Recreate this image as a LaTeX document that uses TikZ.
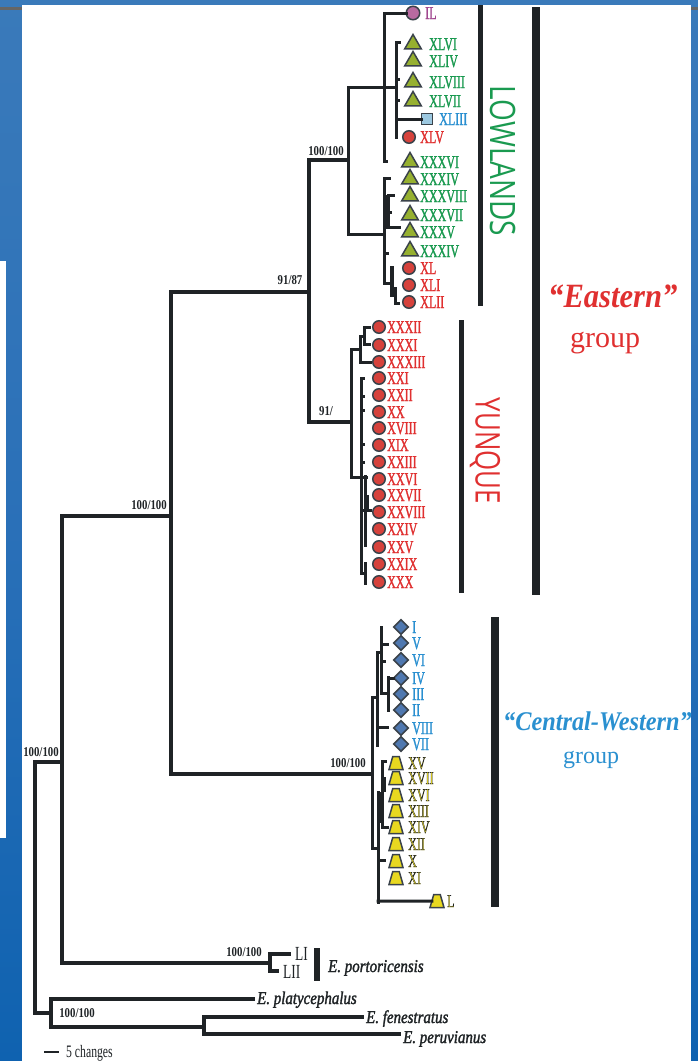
\documentclass[tikz,border=0pt]{standalone}
\usepackage{fontspec}
\usetikzlibrary{shapes.geometric}
\setmainfont{Liberation Serif}
\newfontfamily\lab[FakeStretch=0.67]{Liberation Serif}
\newfontfamily\supf[FakeStretch=0.8]{Liberation Serif}
\newfontfamily\spec[FakeStretch=0.83]{Liberation Serif}
\newfontfamily\grp[FakeStretch=0.9]{Liberation Serif}
\newfontfamily\regf[FakeStretch=0.8]{Open Sans}
\newfontfamily\regg[FakeStretch=0.76]{Open Sans}
\definecolor{ink}{HTML}{1F2326}
\definecolor{stripA}{HTML}{3A7ABA}
\definecolor{stripB}{HTML}{2A70B8}
\definecolor{stripC}{HTML}{0F62B0}
\definecolor{cgreen}{HTML}{1A9A50}
\definecolor{cred}{HTML}{E03030}
\definecolor{cblue}{HTML}{2A90D0}
\definecolor{cpurp}{HTML}{A04890}
\definecolor{ckyl}{HTML}{E8D820}
\definecolor{mred}{HTML}{D6423C}
\definecolor{mpur}{HTML}{B86AA0}
\definecolor{mgrn}{HTML}{96B030}
\definecolor{mdia}{HTML}{4F78B0}
\definecolor{msqu}{HTML}{9CC8E0}
\definecolor{medge}{HTML}{3A424A}
\def\rgbcgreen{0.10 0.60 0.31}
\def\rgbcred{0.88 0.19 0.19}
\def\rgbcblue{0.16 0.56 0.82}
\def\rgbcpurp{0.63 0.28 0.56}
\tikzset{
  trunk/.style={line width=3.2pt,color=ink,line cap=rect},
  twig/.style={line width=3pt,color=ink,line cap=rect},
  heavy/.style={line width=3.8pt,color=ink},
  groupbar/.style={fill=ink,draw=none},
  strip/.style={draw=none,bottom color=stripC,top color=stripA,middle color=stripB},
  mk/.style={inner sep=0pt,outer sep=0pt,line width=1.5pt,draw=medge},
  redc/.style={mk,circle,minimum size=12.5pt,fill=mred},
  purc/.style={mk,circle,minimum size=13.5pt,fill=mpur},
  tria/.style={mk,regular polygon,regular polygon sides=3,minimum size=19pt,fill=mgrn},
  dia/.style={mk,diamond,minimum width=14.5pt,minimum height=14.5pt,fill=mdia},
  squ/.style={mk,rectangle,minimum size=11pt,fill=msqu},
  tra/.style={mk,trapezium,minimum width=12.5pt,minimum height=13pt,trapezium left angle=74,trapezium right angle=74,fill=ckyl},
  num/.style={anchor=base west,inner sep=0pt,font=\lab\fontsize{18}{18}\selectfont},
  supp/.style={inner sep=0pt,text=ink,font=\supf\bfseries\fontsize{13.5}{14}\selectfont},
  species/.style={anchor=base west,inner sep=0pt,text=ink,font=\spec\itshape\fontsize{18}{18}\selectfont},
  region/.style={rotate=-90,inner sep=0pt,font=\regf\fontsize{35}{35}\selectfont},
  titleb/.style={anchor=base west,inner sep=0pt},
  titlen/.style={anchor=base west,inner sep=0pt},
}
\newcommand\outl[1]{\special{pdf:literal 2 Tr 0.3 w 0.13 0.14 0.15 RG}#1\special{pdf:literal 0 Tr}}
\newcommand\stk[3]{\special{pdf:literal 2 Tr #2 w #1 RG}#3\special{pdf:literal 0 Tr}}
% leaf: style, name, x, y, label x, text colour, text
\newcommand\leaf[7]{\node[#1] (#2) at (#3,#4) {};
  \node[num,text=#6] (#2t) at (#5,#4+6) {\stk{\csname rgb#6\endcsname}{0.22}{#7}};}
\newcommand\yleaf[5]{\node[tra] (#1) at (#2,#3) {\phantom{\rule{3pt}{6pt}}};
  \node[num,text=ckyl] (#1t) at (#4,#3+6) {\outl{#5}};}
\newcommand\hh[5]{\coordinate (#1a) at (#3,#2); \coordinate (#1b) at (#4,#2); \draw[#5] (#1a) -- (#1b);}
\newcommand\vv[5]{\coordinate (#1a) at (#2,#3); \coordinate (#1b) at (#2,#4); \draw[#5] (#1a) -- (#1b);}
\newcommand\sptxt[1]{\stk{0.12 0.14 0.15}{0.3}{#1}}
\begin{document}
\begin{tikzpicture}[x=1pt,y=-1pt]
\useasboundingbox (0,0) rectangle (698,1061);
% frame
\fill[white] (0,0) rectangle (698,1061);
\shade[strip] (0,0) rectangle (22,1061);
\shade[strip] (691,0) rectangle (698,1061);
\fill[stripA] (0,0) rectangle (698,5);
\fill[white] (22,5) rectangle (691,1061);
\fill[black!60] (0,7) rectangle (22,10);
\fill[black!60] (691,7) rectangle (698,10);
\fill[white] (0,261) rectangle (6,838);
% group bars
\fill[groupbar] (478,5) rectangle (483,306);
\fill[groupbar] (532,7) rectangle (540,595);
\fill[groupbar] (459,320) rectangle (464,593);
\fill[groupbar] (491,617) rectangle (499,907);
\fill[groupbar] (314,948) rectangle (320,981);
% markers and labels: Lowlands
\leaf{purc}{il}{413}{13}{425}{cpurp}{IL}
\leaf{tria}{l46}{413}{44}{429}{cgreen}{XLVI}
\leaf{tria}{l44}{413}{61}{429}{cgreen}{XLIV}
\leaf{tria}{l48}{413}{82}{429}{cgreen}{XLVIII}
\leaf{tria}{l47}{413}{101}{429}{cgreen}{XLVII}
\leaf{squ}{l43}{427}{119}{439}{cblue}{XLIII}
\leaf{redc}{l45}{409}{137}{420}{cred}{XLV}
\leaf{tria}{l36}{410}{162}{420}{cgreen}{XXXVI}
\leaf{tria}{l34}{410}{179}{420}{cgreen}{XXXIV}
\leaf{tria}{l38}{410}{196}{420}{cgreen}{XXXVIII}
\leaf{tria}{l37}{410}{215}{420}{cgreen}{XXXVII}
\leaf{tria}{l35}{410}{232}{420}{cgreen}{XXXV}
\leaf{tria}{l34b}{410}{251}{420}{cgreen}{XXXIV}
\leaf{redc}{l40}{409}{268}{420}{cred}{XL}
\leaf{redc}{l41}{409}{285}{420}{cred}{XLI}
\leaf{redc}{l42}{409}{302}{420}{cred}{XLII}
% Yunque
\leaf{redc}{y32}{379}{327}{387}{cred}{XXXII}
\leaf{redc}{y31}{379}{345}{387}{cred}{XXXI}
\leaf{redc}{y33}{379}{362}{387}{cred}{XXXIII}
\leaf{redc}{y21}{379}{378}{387}{cred}{XXI}
\leaf{redc}{y22}{379}{395}{387}{cred}{XXII}
\leaf{redc}{y20}{379}{412}{387}{cred}{XX}
\leaf{redc}{y18}{379}{428}{387}{cred}{XVIII}
\leaf{redc}{y19}{379}{445}{387}{cred}{XIX}
\leaf{redc}{y23}{379}{462}{387}{cred}{XXIII}
\leaf{redc}{y26}{379}{479}{387}{cred}{XXVI}
\leaf{redc}{y27}{379}{495}{387}{cred}{XXVII}
\leaf{redc}{y28}{379}{512}{387}{cred}{XXVIII}
\leaf{redc}{y24}{379}{529}{387}{cred}{XXIV}
\leaf{redc}{y25}{379}{547}{387}{cred}{XXV}
\leaf{redc}{y29}{379}{564}{387}{cred}{XXIX}
\leaf{redc}{y30}{379}{582}{387}{cred}{XXX}
% Central-Western
\leaf{dia}{c1}{401}{627}{412}{cblue}{I}
\leaf{dia}{c5}{401}{643}{412}{cblue}{V}
\leaf{dia}{c6}{401}{660}{412}{cblue}{VI}
\leaf{dia}{c4}{401}{678}{412}{cblue}{IV}
\leaf{dia}{c3}{401}{694}{412}{cblue}{III}
\leaf{dia}{c2}{401}{710}{412}{cblue}{II}
\leaf{dia}{c8}{401}{728}{412}{cblue}{VIII}
\leaf{dia}{c7}{401}{744}{412}{cblue}{VII}
\yleaf{w15}{396}{763}{408}{XV}
\yleaf{w17}{396}{778}{408}{XVII}
\yleaf{w16}{396}{795}{408}{XVI}
\yleaf{w13}{396}{811}{408}{XIII}
\yleaf{w14}{396}{827}{408}{XIV}
\yleaf{w12}{396}{844}{408}{XII}
\yleaf{w10}{396}{861}{408}{X}
\yleaf{w11}{396}{878}{408}{XI}
\yleaf{w50}{437}{901}{447}{L}
% outgroup labels
\node[num,text=ink,font=\lab\fontsize{20}{20}\selectfont] (li) at (295,960) {LI};
\node[num,text=ink,font=\lab\fontsize{20}{20}\selectfont] (lii) at (283,978) {LII};
\node[species] (port) at (328,972) {\sptxt{E. portoricensis}};
\node[species] (plat) at (257,1004) {\sptxt{E. platycephalus}};
\node[species] (fene) at (366,1023) {\sptxt{E. fenestratus}};
\node[species] (peru) at (403,1043) {\sptxt{E. peruvianus}};
% support values
\node[supp] (s1) at (326,151) {100/100};
\node[supp] (s2) at (290,280) {91/87};
\node[supp] (s3) at (326,411) {91/};
\node[supp] (s4) at (149,505) {100/100};
\node[supp] (s5) at (348,763) {100/100};
\node[supp] (s6) at (41,752) {100/100};
\node[supp] (s7) at (244,952) {100/100};
\node[supp] (s8) at (77,1013) {100/100};
% titles
\node[region,text=cgreen] (low) at (503,161) {LOWLANDS};
\node[region,text=cred,font=\regg\fontsize{34}{34}\selectfont] (yun) at (485,451) {YUNQUE};
\node[titleb,text=cred,font=\grp\bfseries\itshape\fontsize{34}{34}\selectfont] (east) at (548,307) {“Eastern”};
\node[titlen,text=cred,font=\rmfamily\fontsize{30}{30}\selectfont] (eg) at (570,347) {group};
\node[titleb,text=cblue,font=\grp\bfseries\itshape\fontsize{27}{27}\selectfont] (cent) at (503,730) {“Central-Western”};
\node[titlen,text=cblue,font=\rmfamily\fontsize{24}{24}\selectfont] (cg) at (563,763) {group};
% scale
\coordinate (sa) at (44,1052); \coordinate (sb) at (59,1052);
\draw[ink,line width=1.4pt] (sa) -- (sb);
\node[num,text=ink,font=\lab\fontsize{17.5}{18}\selectfont] (ch) at (66,1057) {5 changes};
% backbone
\vv{t1}{35}{762}{1013}{trunk}
\hh{t2}{762}{35}{62}{trunk}
\hh{t3}{1013}{35}{51}{trunk}
\vv{t4}{51}{999}{1027}{trunk}
\hh{t5}{999}{51}{253}{trunk}
\hh{t6}{1027}{51}{204}{trunk}
\vv{t7}{204}{1017}{1034}{trunk}
\hh{t8}{1017}{204}{362}{trunk}
\hh{t9}{1034}{204}{399}{trunk}
\vv{u1}{62}{516}{963}{trunk}
\hh{u2}{516}{62}{171}{trunk}
\hh{u3}{963}{62}{270}{trunk}
\vv{u4}{270}{954}{971}{trunk}
\hh{u5}{954}{270}{289}{trunk}
\hh{u6}{971}{270}{277}{trunk}
\vv{m1}{171}{292}{774}{trunk}
\hh{m2}{292}{171}{309}{trunk}
\hh{m3}{774}{171}{372}{trunk}
\vv{m4}{309}{160}{422}{trunk}
\hh{m5}{160}{309}{348}{trunk}
\hh{m6}{422}{309}{351}{trunk}
% lowlands
\vv{a1}{348}{87}{234}{twig}
\hh{a2}{87}{348}{396}{twig}
\hh{a3}{234}{348}{384}{twig}
\vv{a4}{384}{13}{161}{twig}
\coordinate (a5a) at (384,13); \draw[twig] (a5a) -- (il);
\hh{a6}{161}{384}{386}{twig}
\vv{a7}{396}{42}{137}{twig}
\hh{a8}{42}{396}{399}{twig}
\hh{a9}{79}{396}{398}{twig}
\hh{a10}{100}{396}{398}{twig}
\coordinate (a11a) at (396,119); \draw[twig] (a11a) -- (l43);
\vv{b1}{384}{178}{283}{twig}
\hh{b2}{178}{384}{389}{twig}
\vv{b3}{388}{195}{227}{heavy}
\hh{b4}{195}{388}{393}{twig}
\hh{b5}{212}{388}{390}{twig}
\hh{b6}{227}{384}{399}{twig}
\hh{b7}{253}{384}{387}{twig}
\hh{b8}{283}{384}{392}{twig}
\vv{b9}{392}{268}{295}{trunk}
\vv{b10}{395}{288}{303}{twig}
\hh{b11}{303}{395}{398}{twig}
% yunque
\vv{d1}{351}{349}{477}{twig}
\hh{d2}{349}{351}{360}{twig}
\vv{d3}{360}{336}{362}{twig}
\hh{d4}{362}{360}{370}{twig}
\hh{d5}{336}{360}{364}{twig}
\vv{d6}{364}{327}{344}{twig}
\hh{d7}{327}{364}{369}{twig}
\hh{d8}{344}{364}{369}{twig}
\vv{e1}{361}{378}{573}{twig}
\hh{e2}{378}{361}{363}{twig}
\hh{e3}{396}{361}{363}{twig}
\hh{e4}{410}{361}{363}{twig}
\hh{e5}{444}{361}{363}{twig}
\hh{e6}{462}{361}{363}{twig}
\hh{e7}{477}{351}{366}{twig}
\vv{e8}{365}{476}{545}{twig}
\vv{e9}{367}{495}{510}{heavy}
\hh{e10}{510}{361}{370}{twig}
\hh{e11}{573}{361}{365}{twig}
\vv{e12}{365}{563}{583}{twig}
% central-western
\vv{f1}{372}{697}{848}{twig}
\hh{f2}{697}{372}{377}{twig}
\vv{f3}{377}{652}{745}{twig}
\hh{f4}{652}{377}{381}{twig}
\vv{f5}{381}{627}{693}{twig}
\hh{f6}{644}{381}{387}{twig}
\hh{f7}{661}{381}{384}{twig}
\hh{f8}{693}{381}{387}{twig}
\vv{f9}{388}{677}{710}{twig}
\coordinate (f10a) at (388,678); \draw[twig] (f10a) -- (c4);
\hh{f11}{727}{377}{387}{twig}
\hh{g1}{848}{372}{378}{twig}
\vv{g2}{378}{792}{902}{twig}
\coordinate (g3a) at (378,901); \draw[twig] (g3a) -- (w50);
\hh{g4}{860}{378}{384}{twig}
\vv{g5}{380}{792}{823}{heavy}
\vv{g6}{382}{761}{827}{twig}
\hh{g7}{761}{382}{385}{twig}
\hh{g8}{827}{382}{387}{twig}
\vv{g9}{384}{777}{792}{heavy}
\end{tikzpicture}
\end{document}
